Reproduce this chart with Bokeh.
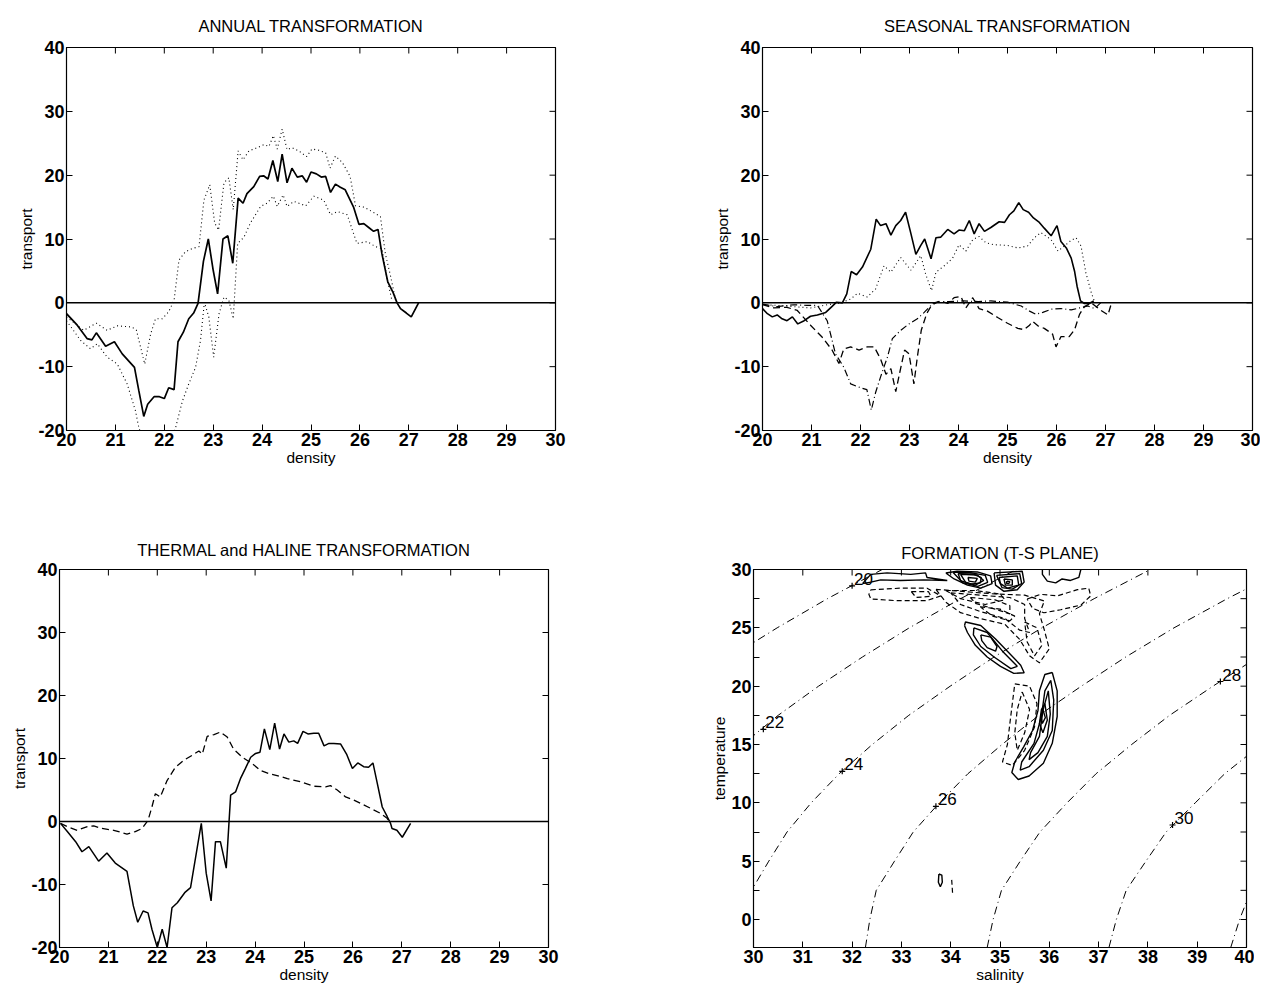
import math
from bokeh.plotting import figure
from bokeh.layouts import column, row
from bokeh.models import Span, FixedTicker
from bokeh.embed import file_html
from bokeh.resources import INLINE
from bokeh.core.properties import value

FONT = "Liberation Sans"

# ---------------- ANNUAL TRANSFORMATION ----------------
ann_x = [20.0, 20.22, 20.42, 20.52, 20.61, 20.8, 20.98, 21.14, 21.39, 21.48, 21.58, 21.66, 21.79, 21.9,
         22.0, 22.09, 22.2, 22.28, 22.39, 22.5, 22.6, 22.69, 22.8, 22.9, 23.0, 23.09, 23.2, 23.3, 23.4,
         23.51, 23.61, 23.69, 23.83, 23.95, 24.03, 24.12, 24.22, 24.32, 24.41, 24.51, 24.61, 24.72, 24.82,
         24.91, 25.0, 25.11, 25.21, 25.3, 25.4, 25.5, 25.6, 25.7, 25.87, 25.98, 26.08, 26.18, 26.28, 26.37,
         26.45, 26.57, 26.68, 26.76, 26.83, 26.95, 27.05, 27.2]
ann_y = [-1.7, -3.5, -5.6, -5.8, -4.7, -6.8, -6.1, -8.0, -10.1, -13.8, -17.8, -15.9, -14.7, -14.7,
         -15.0, -13.3, -13.6, -6.1, -4.6, -2.5, -1.6, -0.1, 6.5, 10.0, 5.1, 1.4, 10.0, 10.5, 6.2,
         16.4, 15.6, 17.1, 18.2, 19.8, 19.9, 19.4, 22.3, 19.0, 23.3, 18.8, 21.1, 19.7, 19.9,
         18.9, 20.5, 20.2, 19.7, 19.8, 17.3, 18.6, 18.1, 17.7, 15.0, 12.3, 12.4, 11.8, 11.2, 11.5,
         7.7, 3.3, 1.6, 0.0, -0.9, -1.6, -2.2, 0.0]
ann_hi_x = [20.0, 20.35, 20.61, 20.83, 21.04, 21.34, 21.43, 21.6, 21.72, 21.82, 21.96, 22.09, 22.2, 22.3,
            22.43, 22.57, 22.71, 22.81, 22.93, 23.03, 23.11, 23.22, 23.32, 23.41, 23.51, 23.61, 23.73,
            23.9, 24.04, 24.14, 24.23, 24.31, 24.41, 24.51, 24.61, 24.75, 24.91, 25.02, 25.16, 25.3,
            25.39, 25.5, 25.64, 25.8, 25.91, 26.08, 26.25, 26.42, 26.52, 26.63, 26.73]
ann_hi_y = [-2.2, -4.3, -3.2, -4.3, -3.6, -3.8, -4.3, -9.6, -4.9, -2.5, -2.5, -1.4, 0.4, 6.7,
            8.0, 8.5, 8.8, 16.1, 18.5, 12.5, 11.4, 18.8, 19.6, 14.6, 23.8, 22.4, 23.8,
            24.3, 24.8, 24.5, 26.2, 24.1, 27.2, 24.0, 24.3, 23.8, 22.9, 24.1, 23.9, 23.5,
            21.1, 23.0, 22.0, 19.8, 15.2, 15.0, 14.3, 13.5, 7.7, 4.1, 0.4]
ann_lo_x = [20.0, 20.29, 20.49, 20.63, 20.83, 21.04, 21.24, 21.41, 21.48, 21.6, 21.8, 22.0, 22.15, 22.23,
            22.37, 22.5, 22.64, 22.74, 22.82, 22.91, 23.01, 23.12, 23.22, 23.32, 23.41, 23.5, 23.63,
            23.76, 23.97, 24.1, 24.23, 24.31, 24.43, 24.51, 24.65, 24.89, 25.06, 25.26, 25.4, 25.54,
            25.74, 25.94, 26.15, 26.32, 26.45, 26.55, 26.66]
ann_lo_y = [-2.8, -5.9, -7.2, -6.4, -8.5, -9.6, -12.7, -16.9, -19.6, -22.0, -24.0, -23.0, -21.0, -19.6,
            -15.4, -12.7, -10.1, -5.9, 0.1, -2.2, -8.5, -1.7, 0.9, 0.4, -2.5, 9.3, 10.3,
            12.5, 15.1, 15.6, 16.7, 15.1, 16.9, 15.1, 15.9, 15.2, 16.7, 16.1, 13.8, 14.3,
            13.8, 9.3, 9.6, 8.8, 8.5, 4.0, 0.2]

# ---------------- SEASONAL TRANSFORMATION ----------------
sea_x = [20.0, 20.1, 20.2, 20.3, 20.4, 20.5, 20.61, 20.72, 20.85, 20.98, 21.12, 21.29, 21.4, 21.51, 21.63,
         21.72, 21.81, 21.92, 22.04, 22.21, 22.32, 22.41, 22.52, 22.62, 22.72, 22.82, 22.92, 23.03, 23.13,
         23.23, 23.31, 23.44, 23.54, 23.64, 23.78, 23.91, 24.01, 24.12, 24.22, 24.32, 24.42, 24.53, 24.66,
         24.83, 24.94, 25.04, 25.13, 25.23, 25.32, 25.43, 25.53, 25.65, 25.75, 25.89, 26.01, 26.09, 26.2,
         26.3, 26.37, 26.42, 26.49, 26.57, 26.67, 26.76]
sea_y = [-0.9, -1.7, -2.2, -1.9, -2.5, -2.8, -2.2, -3.3, -2.8, -2.1, -1.9, -1.5, -0.7, 0.1, 0.0,
         1.4, 4.9, 4.4, 5.6, 8.4, 13.1, 12.1, 12.4, 10.6, 12.1, 12.9, 14.2, 10.8, 7.6,
         9.0, 10.0, 6.9, 10.2, 10.3, 11.5, 10.8, 11.4, 11.3, 12.9, 10.8, 12.4, 11.2, 11.8,
         12.7, 12.6, 13.8, 14.4, 15.7, 14.6, 14.2, 13.3, 12.6, 11.7, 10.5, 12.1, 9.6, 8.6,
         7.0, 4.9, 2.6, 0.3, -0.1, -0.1, 0.3]
sea_dot_x = [20.0, 20.3, 20.64, 20.98, 21.32, 21.6, 21.8, 21.94, 22.14, 22.31, 22.48, 22.62, 22.82, 23.03,
             23.23, 23.33, 23.45, 23.54, 23.71, 23.88, 24.01, 24.15, 24.29, 24.42, 24.56, 24.73, 25.0,
             25.21, 25.41, 25.55, 25.68, 25.89, 26.03, 26.16, 26.3, 26.4, 26.5, 26.6, 26.71, 26.78]
sea_dot_y = [-0.3, -0.4, -0.6, -0.8, -0.3, 0.0, 0.6, 1.5, 0.9, 2.2, 5.8, 4.8, 7.1, 5.1,
             7.4, 4.5, 1.9, 4.8, 5.8, 7.0, 9.1, 8.1, 9.9, 10.4, 9.4, 9.1, 9.0,
             8.6, 8.9, 10.2, 11.0, 9.9, 8.1, 8.9, 9.8, 10.2, 8.9, 4.7, 1.6, 0.1]
sea_dash_x = [20.0, 20.23, 20.5, 20.71, 20.98, 21.22, 21.42, 21.56, 21.66, 21.8, 21.97, 22.14, 22.28, 22.41,
              22.52, 22.62, 22.72, 22.81, 22.9, 22.99, 23.09, 23.16, 23.24, 23.35, 23.47, 23.64, 23.78,
              23.91, 24.05, 24.15, 24.29, 24.42, 24.59, 24.8, 25.0, 25.21, 25.34, 25.45, 25.51, 25.62,
              25.75, 25.92, 25.99, 26.09, 26.26, 26.37, 26.47, 26.57, 26.71, 26.91, 27.05, 27.12]
sea_dash_y = [-0.3, -0.8, -0.7, -1.2, -3.5, -5.4, -7.4, -9.5, -7.2, -6.9, -7.4, -6.9, -6.9, -8.8,
              -11.2, -10.3, -13.9, -10.6, -7.4, -8.0, -12.7, -8.5, -4.3, -1.7, -0.1, 0.3, -0.1,
              0.8, 1.0, -0.8, 0.8, -0.9, -1.3, -2.3, -3.2, -4.0, -4.2, -3.5, -2.9, -3.6,
              -4.0, -4.9, -6.9, -5.3, -5.3, -4.2, -1.8, -0.6, 0.0, -1.2, -1.9, -0.1]
sea_dd_x = [20.0, 20.3, 20.64, 20.91, 21.12, 21.32, 21.49, 21.66, 21.8, 22.0, 22.13, 22.22, 22.31, 22.41,
            22.49, 22.55, 22.65, 22.82, 22.99, 23.16, 23.3, 23.44, 23.57, 23.8, 24.1, 24.4, 24.66,
            25.0, 25.28, 25.45, 25.58, 25.72, 25.89, 26.09, 26.3, 26.47, 26.64, 26.78, 26.9]
sea_dd_y = [-0.2, -0.6, -0.3, -0.4, -0.4, -2.8, -8.0, -10.1, -12.7, -13.3, -13.6, -16.8, -14.0, -11.6,
            -9.8, -8.5, -5.6, -4.3, -3.3, -2.5, -1.5, -0.4, 0.1, 0.2, 0.3, 0.2, 0.3,
            0.1, -0.5, -1.3, -1.8, -1.5, -1.0, -0.9, -1.1, -0.8, -0.5, -0.9, 0.0]

# ---------------- THERMAL and HALINE TRANSFORMATION ----------------
th_x = [20.02, 20.16, 20.33, 20.46, 20.6, 20.8, 20.97, 21.14, 21.38, 21.51, 21.6, 21.71, 21.81, 21.89,
        22.0, 22.1, 22.2, 22.3, 22.41, 22.56, 22.68, 22.82, 22.9, 23.0, 23.1, 23.19, 23.29, 23.41,
        23.5, 23.6, 23.7, 23.8, 23.91, 24.01, 24.1, 24.19, 24.3, 24.4, 24.5, 24.59, 24.69, 24.79,
        24.87, 24.98, 25.08, 25.2, 25.3, 25.41, 25.51, 25.61, 25.75, 25.87, 25.99, 26.1, 26.22,
        26.32, 26.41, 26.5, 26.6, 26.7, 26.77, 26.8, 26.9, 27.01, 27.18]
th_y = [-0.3, -1.6, -3.2, -4.8, -4.0, -6.3, -5.0, -6.6, -7.9, -13.4, -16.0, -14.2, -14.5, -17.1,
        -20.0, -17.1, -20.0, -13.7, -12.9, -11.3, -10.5, -4.0, -0.3, -8.2, -12.6, -3.2, -3.2, -7.4,
        4.2, 4.7, 6.8, 8.4, 10.2, 10.8, 11.0, 14.7, 11.4, 15.6, 11.5, 13.9, 12.6, 12.8,
        12.4, 14.3, 13.9, 14.0, 14.0, 12.0, 12.4, 12.4, 12.3, 10.7, 8.4, 9.3, 8.7,
        8.6, 9.3, 6.0, 2.3, 0.8, -0.3, -1.1, -1.4, -2.5, -0.3]
hal_x = [20.02, 20.16, 20.36, 20.57, 20.7, 20.87, 21.11, 21.38, 21.55, 21.69, 21.81, 21.89, 21.96, 22.06,
         22.2, 22.37, 22.54, 22.71, 22.85, 22.92, 23.02, 23.16, 23.29, 23.43, 23.56, 23.74, 23.94,
         24.11, 24.28, 24.45, 24.66, 24.93, 25.2, 25.44, 25.54, 25.68, 25.85, 26.02, 26.15, 26.36,
         26.56, 26.7, 26.77]
hal_y = [-0.3, -0.8, -1.4, -0.8, -0.7, -1.1, -1.4, -2.0, -1.6, -1.1, 0.2, 2.3, 4.4, 3.9,
         6.5, 8.6, 9.7, 10.5, 11.2, 10.7, 13.5, 13.8, 14.2, 13.4, 11.5, 10.2, 9.2,
         8.1, 7.6, 7.3, 6.8, 6.3, 5.6, 5.5, 5.7, 5.0, 3.9, 3.4, 2.9, 2.1,
         1.3, 0.5, -0.3]

# ---------------- FORMATION (T-S PLANE) ----------------
iso_T = [[20, 22.5, 25, 27.5, 30],
         [12.5, 15, 17.5, 20, 22.5, 25, 27.5, 30],
         [-2.4, 0, 2.5, 5, 7.5, 10, 12.5, 15, 17.5, 20, 22.5, 25, 27.5, 30],
         [-2.4, 0, 2.5, 5, 7.5, 10, 12.5, 15, 17.5, 20, 22.5, 25, 27.5, 30],
         [-2.4, 0, 2.5, 5, 7.5, 10, 12.5, 15, 17.5, 20, 22.5],
         [-2.4, 0, 2.5, 5, 7.5, 10, 12.5, 15],
         [-2.4, 0, 2.5]]
iso_S = [[28.65, 29.53, 30.48, 31.50, 32.61],
         [29.14, 29.78, 30.50, 31.32, 32.21, 33.16, 34.20, 35.33],
         [29.8, 29.86, 29.96, 30.31, 30.68, 31.17, 31.74, 32.41, 33.15, 33.99, 34.88, 35.85, 36.91, 38.05],
         [32.27, 32.36, 32.49, 32.86, 33.24, 33.77, 34.35, 35.04, 35.79, 36.65, 37.55, 38.53, 39.61, 40.77],
         [34.74, 34.86, 35.03, 35.41, 35.81, 36.36, 36.95, 37.67, 38.44, 39.32, 40.23],
         [37.21, 37.36, 37.56, 37.96, 38.37, 38.96, 39.56, 40.30],
         [39.68, 39.86, 40.09]]
iso_lab_S = [32.0, 30.2, 31.8, 33.7, 39.47, 38.5]
iso_lab_T = [28.6, 16.3, 12.7, 9.7, 20.4, 8.1]
iso_lab = ["20", "22", "24", "26", "28", "30"]

pos_S = [[32.21, 32.38, 32.71, 33.19, 33.49, 33.52, 33.93, 33.46, 32.98, 32.58, 32.38, 32.21],
         [33.9, 34.13, 34.54, 34.81, 34.84, 34.61, 34.34, 34.07, 33.9],
         [34.05, 34.35, 34.7, 34.75, 34.55, 34.25, 34.05],
         [34.15, 34.45, 34.62, 34.6, 34.4, 34.2, 34.15],
         [34.2, 34.54, 34.67, 34.5, 34.3, 34.2],
         [34.35, 34.54, 34.5, 34.37, 34.35],
         [34.88, 35.45, 35.49, 35.35, 35.08, 34.91, 34.88],
         [34.93, 35.4, 35.44, 35.25, 35.04, 34.93],
         [34.98, 35.35, 35.38, 35.15, 35.01, 34.98],
         [35.08, 35.25, 35.25, 35.11, 35.08],
         [35.14, 35.2, 35.18, 35.13, 35.14],
         [35.86, 35.86, 35.96, 36.13, 36.26, 36.43, 36.6, 36.64],
         [34.28, 34.30, 34.61, 34.91, 35.15, 35.42, 35.49, 35.28, 35.01, 34.74, 34.5, 34.34, 34.28],
         [34.47, 34.74, 35.05, 35.35, 35.22, 34.88, 34.61, 34.46, 34.47],
         [34.61, 34.81, 34.94, 34.91, 34.74, 34.63, 34.61],
         [36.06, 36.16, 36.16, 36.06, 35.88, 35.59, 35.37, 35.24, 35.3, 35.48, 35.66, 35.77, 35.8, 35.91, 36.06],
         [36.03, 36.09, 36.06, 35.88, 35.59, 35.41, 35.44, 35.69, 35.84, 35.91, 36.03],
         [35.98, 36.02, 35.96, 35.77, 35.59, 35.62, 35.8, 35.87, 35.98],
         [35.91, 35.96, 35.87, 35.8, 35.84, 35.91],
         [35.87, 35.92, 35.86, 35.83, 35.87],
         [33.76, 33.82, 33.83, 33.79, 33.75, 33.76]]
pos_T = [[28.79, 29.58, 29.71, 29.58, 29.71, 29.32, 29.06, 29.11, 29.06, 29.11, 28.92, 28.79],
         [29.7, 29.85, 29.79, 29.45, 28.79, 28.4, 28.66, 29.19, 29.7],
         [29.75, 29.78, 29.5, 28.9, 28.55, 28.85, 29.75],
         [29.65, 29.62, 29.3, 28.85, 28.75, 29.05, 29.65],
         [29.58, 29.53, 29.06, 28.66, 28.92, 29.58],
         [29.32, 29.24, 28.92, 29.0, 29.32],
         [29.71, 29.85, 28.92, 28.26, 28.13, 28.66, 29.71],
         [29.5, 29.65, 28.8, 28.32, 28.45, 29.5],
         [29.32, 29.45, 28.66, 28.4, 28.79, 29.32],
         [29.19, 29.11, 28.66, 28.66, 29.19],
         [29.0, 28.95, 28.8, 28.82, 29.0],
         [30.0, 29.58, 29.0, 28.85, 29.19, 29.06, 29.32, 30.0],
         [25.2, 25.5, 25.2, 24.05, 23.0, 21.8, 21.15, 21.1, 21.7, 22.5, 23.5, 24.6, 25.2],
         [25.0, 24.6, 23.0, 21.7, 21.5, 22.5, 23.4, 24.4, 25.0],
         [24.4, 24.2, 23.4, 23.0, 23.3, 23.9, 24.4],
         [21.17, 19.6, 17.4, 15.1, 13.4, 12.3, 12.0, 12.6, 13.5, 14.8, 16.2, 17.9, 19.6, 21.0, 21.17],
         [20.5, 18.8, 16.2, 14.5, 13.1, 12.8, 13.5, 15.1, 17.4, 19.6, 20.5],
         [19.6, 17.6, 15.7, 14.3, 13.7, 14.3, 15.7, 17.9, 19.6],
         [18.5, 17.1, 16.0, 16.8, 18.0, 18.5],
         [18.0, 17.3, 16.8, 17.4, 18.0],
         [3.9, 3.8, 3.2, 2.8, 3.2, 3.9]]
neg_S = [[32.38, 32.98, 33.52, 33.8, 33.52, 32.85, 32.38, 32.34, 32.38],
         [33.2, 33.55, 33.6, 33.3, 33.2],
         [33.7, 34.3, 34.9, 35.5, 35.9, 35.8, 35.9, 36.0, 35.8, 35.6, 35.4, 35.1, 34.6, 34.2, 33.9, 33.7],
         [33.9, 34.5, 35.0, 35.1, 34.7, 34.2, 33.9],
         [34.0, 34.6, 35.2, 35.5, 35.5, 35.6, 35.4, 35.1, 34.6, 34.2, 34.0],
         [34.4, 34.9, 35.2, 35.2, 34.9, 34.5, 34.4],
         [34.6, 35.0, 35.3, 35.2, 34.85, 34.6],
         [35.5, 35.75, 35.85, 35.7, 35.55, 35.5],
         [35.55, 35.82, 36.16, 36.57, 36.8, 36.84, 36.64, 36.23, 35.89, 35.66, 35.55],
         [35.3, 35.6, 35.75, 35.7, 35.5, 35.25, 35.05, 35.15, 35.2, 35.25, 35.3],
         [35.45, 35.6, 35.5, 35.35, 35.3, 35.35, 35.45],
         [34.02, 34.03, 34.04]]
neg_T = [[28.26, 28.4, 28.4, 27.74, 27.34, 27.34, 27.47, 27.87, 28.26],
         [28.1, 28.1, 27.7, 27.6, 28.1],
         [28.3, 28.1, 27.9, 27.8, 27.3, 26.2, 24.8, 23.2, 22.0, 22.6, 24.0, 25.3, 25.8, 26.3, 27.2, 28.3],
         [28.2, 28.2, 27.9, 27.4, 27.0, 27.5, 28.2],
         [28.0, 27.8, 27.6, 27.0, 25.8, 24.6, 24.8, 25.8, 26.4, 27.0, 28.0],
         [27.6, 27.4, 26.9, 26.2, 26.6, 27.1, 27.6],
         [26.8, 26.6, 26.0, 25.6, 26.0, 26.8],
         [25.5, 25.0, 23.5, 22.6, 23.8, 25.5],
         [27.47, 27.87, 27.74, 28.27, 28.4, 27.74, 26.95, 26.55, 26.29, 26.68, 27.47],
         [20.2, 20.0, 18.5, 16.5, 14.5, 13.2, 13.5, 15.0, 16.8, 18.5, 20.2],
         [19.5, 18.0, 16.0, 14.5, 16.0, 18.0, 19.5],
         [3.4, 2.8, 2.1]]

dens_range = (20, 30)
transport_range = (-20, 40)
sal_range = (30, 40)
temp_range = (-2.4, 30)
dens_ticks = list(range(20, 31))
transport_ticks = [-20, -10, 0, 10, 20, 30, 40]
sal_ticks = list(range(30, 41))
temp_ticks = [0, 5, 10, 15, 20, 25, 30]
temp_minor = [2.5, 7.5, 12.5, 17.5, 22.5, 27.5]


def fmt(v):
    return ("-%g" % (-v)) if v < 0 else ("%g" % v)


def make_fig(title, xr, yr, w, h, mbl, mbr, mbt, mbb, tstand, xlabel, ylabel, xt, yt, ym=None):
    ym = ym or []
    p = figure(title=title, x_range=xr, y_range=yr, width=w, height=h,
               min_border_left=mbl, min_border_right=mbr, min_border_top=mbt, min_border_bottom=mbb,
               output_backend="svg", toolbar_location=None,
               x_axis_label=xlabel, y_axis_label=ylabel)
    p.grid.visible = False
    p.outline_line_color = "black"
    p.outline_line_width = 1.2
    p.background_fill_color = "white"
    p.border_fill_color = "white"
    p.title.align = "center"
    p.title.text_font = FONT
    p.title.text_font_size = "16.5px"
    p.title.text_font_style = "normal"
    p.title.text_color = "black"
    p.title.standoff = tstand
    p.xaxis[0].ticker = FixedTicker(ticks=xt)
    p.yaxis[0].ticker = FixedTicker(ticks=yt, minor_ticks=ym)
    p.yaxis[0].major_label_overrides = {v: fmt(v) for v in yt}
    for ax in p.axis:
        ax.major_tick_in = 6
        ax.major_tick_out = 0
        ax.minor_tick_in = 6
        ax.minor_tick_out = 0
        ax.axis_line_color = "black"
        ax.major_tick_line_color = "black"
        ax.major_label_text_font = FONT
        ax.major_label_text_font_size = "18px"
        ax.major_label_text_font_style = "bold"
        ax.major_label_text_color = "black"
        ax.major_label_standoff = 2
        ax.axis_label_text_font = FONT
        ax.axis_label_text_font_size = "15.5px"
        ax.axis_label_text_font_style = "normal"
        ax.axis_label_text_color = "black"
        ax.axis_label_standoff = 0
    p.xaxis[0].minor_tick_line_color = None
    p.yaxis[0].minor_tick_line_color = "black" if ym else None
    # inward ticks on the right and top edges of the box
    ry = list(yt) + list(ym)
    p.scatter([xr[1]] * len(ry), ry, marker="dash", size=12, line_color="black", line_width=1)
    p.scatter(list(xt), [yr[1]] * len(xt), marker="dash", size=12, angle=math.pi / 2,
              line_color="black", line_width=1)
    return p


def zero_line(p):
    p.add_layout(Span(location=0, dimension="width", line_color="black", line_width=1.5))


# ---- panel 1
p1 = make_fig("ANNUAL TRANSFORMATION", dens_range, transport_range, 702, 486, 66, 147, 47, 56, 26,
              "density", "transport", dens_ticks, transport_ticks)
zero_line(p1)
p1.line(ann_hi_x, ann_hi_y, line_color="black", line_width=1.1, line_dash="1 3")
p1.line(ann_lo_x, ann_lo_y, line_color="black", line_width=1.1, line_dash="1 3")
p1.line(ann_x, ann_y, line_color="black", line_width=1.7)

# ---- panel 2
p2 = make_fig("SEASONAL TRANSFORMATION", dens_range, transport_range, 558, 486, 60, 8, 46, 56, 26,
              "density", "transport", dens_ticks, transport_ticks)
zero_line(p2)
p2.line(sea_dot_x, sea_dot_y, line_color="black", line_width=1.1, line_dash="1 3")
p2.line(sea_dash_x, sea_dash_y, line_color="black", line_width=1.3, line_dash="7 4")
p2.line(sea_dd_x, sea_dd_y, line_color="black", line_width=1.2, line_dash="7 3 1 3")
p2.line(sea_x, sea_y, line_color="black", line_width=1.6)

# ---- panel 3
p3 = make_fig("THERMAL and HALINE TRANSFORMATION", dens_range, transport_range, 693, 503, 59, 145, 80, 42, 22,
              "density", "transport", dens_ticks, transport_ticks)
zero_line(p3)
p3.line(hal_x, hal_y, line_color="black", line_width=1.3, line_dash="7 4")
p3.line(th_x, th_y, line_color="black", line_width=1.5)

# ---- panel 4
p4 = make_fig("FORMATION (T-S PLANE)", sal_range, temp_range, 561, 503, 60, 8, 83, 42, 15,
              "salinity", "temperature", sal_ticks, temp_ticks, temp_minor)
p4.multi_line(iso_S, iso_T, line_color="black", line_width=1.0, line_dash="8 4 1 4")
p4.multi_line(neg_S, neg_T, line_color="black", line_width=1.2, line_dash="5 3")
p4.multi_line(pos_S, pos_T, line_color="black", line_width=1.4)
p4.scatter(iso_lab_S, iso_lab_T, marker="cross", size=6, line_color="black", line_width=1.2)
p4.text(iso_lab_S, iso_lab_T, text=iso_lab, text_font=value(FONT), text_font_size=value("17px"),
        text_color="black", text_align="left", text_baseline="middle", x_offset=2, y_offset=-7)

layout = column(row(p1, p2), row(p3, p4))
open("out.html", "w").write(file_html(layout, INLINE))
